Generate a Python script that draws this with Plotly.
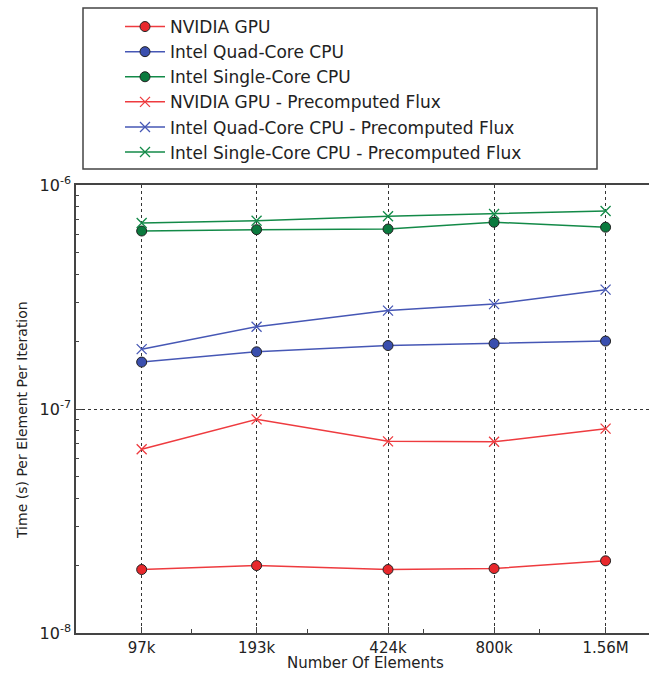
import plotly.graph_objects as go

elements = [97000, 193000, 424000, 800000, 1560000]
x_labels = ["97k", "193k", "424k", "800k", "1.56M"]

gpu = [1.92e-8, 2.00e-8, 1.92e-8, 1.94e-8, 2.10e-8]
quad = [1.62e-7, 1.80e-7, 1.92e-7, 1.96e-7, 2.01e-7]
single = [6.23e-7, 6.32e-7, 6.36e-7, 6.82e-7, 6.48e-7]
gpu_pf = [6.61e-8, 8.99e-8, 7.17e-8, 7.14e-8, 8.17e-8]
quad_pf = [1.85e-7, 2.33e-7, 2.75e-7, 2.94e-7, 3.41e-7]
single_pf = [6.77e-7, 6.93e-7, 7.25e-7, 7.42e-7, 7.66e-7]

names = ["NVIDIA GPU", "Intel Quad-Core CPU", "Intel Single-Core CPU",
         "NVIDIA GPU - Precomputed Flux", "Intel Quad-Core CPU - Precomputed Flux",
         "Intel Single-Core CPU - Precomputed Flux"]

RED, BLUE, GREEN = "#e8282c", "#3a4fae", "#0b7a3e"
RED_L, BLUE_L, GREEN_L = "#ee3b3f", "#4657b5", "#138a48"

W, H = 649, 674
L, R, T, B = 76, 0, 185, 41

fig = go.Figure()
series = [(gpu, RED, RED_L, "circle"), (quad, BLUE, BLUE_L, "circle"),
          (single, GREEN, GREEN_L, "circle"), (gpu_pf, RED, RED_L, "x-thin"),
          (quad_pf, BLUE, BLUE_L, "x-thin"), (single_pf, GREEN, GREEN_L, "x-thin")]
for name, (vals, mc, lc, sym) in zip(names, series):
    if sym == "circle":
        marker = dict(symbol="circle", size=10, color=mc, line=dict(color="#222222", width=1))
    else:
        marker = dict(symbol="x-thin", size=10, color=lc, line=dict(color=lc, width=1.3))
    fig.add_trace(go.Scatter(x=elements, y=vals, name=name, mode="lines+markers",
                             line=dict(color=lc, width=1.5), marker=marker))

y_minor = [m * 10.0 ** e for e in (-8, -7) for m in range(2, 10)]
x_minor = [131072, 262144, 524288, 1048576]

pw = W - L - R
ph = H - T - B
def px_x(p):
    return (p - L) / pw
def px_y(p):
    return (H - B - p) / ph

# legend frame drawn as a rectangle in paper coords
fig.add_shape(type="rect", xref="paper", yref="paper",
              x0=px_x(83), x1=px_x(597), y0=px_y(169), y1=px_y(8),
              line=dict(color="#444444", width=1.5), fillcolor="white", layer="above")

fig.add_annotation(text="Number Of Elements", xref="paper", yref="paper",
                   x=px_x(365), y=px_y(663), showarrow=False,
                   xanchor="center", yanchor="middle",
                   font=dict(size=15, family="DejaVu Sans", color="#222222"))
fig.add_annotation(text="Time (s) Per Element Per Iteration", xref="paper", yref="paper",
                   x=px_x(22), y=px_y(420), showarrow=False, textangle=-90,
                   xanchor="center", yanchor="middle",
                   font=dict(size=14, family="DejaVu Sans", color="#222222"))

fig.update_layout(
    width=W, height=H,
    margin=dict(l=L, r=R, t=T, b=B, autoexpand=False),
    paper_bgcolor="white", plot_bgcolor="white",
    font=dict(family="DejaVu Sans", color="#222222", size=15),
    showlegend=True,
    legend=dict(xref="container", yref="container", x=120 / W, y=1 - 9 / H,
                xanchor="left", yanchor="top", bgcolor="rgba(0,0,0,0)",
                borderwidth=0,
                font=dict(family="DejaVu Sans", size=17, color="#222222"),
                itemwidth=40),
    xaxis=dict(type="log", range=[4.816, 6.306], tickmode="array",
               tickvals=elements, ticktext=x_labels, ticks="inside", ticklen=6,
               tickcolor="#444444", showline=True, linecolor="#444444", linewidth=1.5,
               mirror=True, showgrid=True, gridcolor="#333333", griddash="dot", gridwidth=1,
               zeroline=False, tickangle=0,
               minor=dict(tickmode="array", tickvals=x_minor, ticks="inside", ticklen=4,
                          tickcolor="#444444", showgrid=False),
               tickfont=dict(size=15)),
    yaxis=dict(type="log", range=[-8, -6], tickmode="array",
               tickvals=[1e-8, 1e-7, 1e-6],
               ticktext=["10<sup>-8</sup>", "10<sup>-7</sup>", "10<sup>-6</sup>"],
               ticks="inside", ticklen=6, tickcolor="#444444",
               showline=True, linecolor="#444444", linewidth=1.5, mirror=True,
               showgrid=True, gridcolor="#333333", griddash="dot", gridwidth=1,
               zeroline=False,
               minor=dict(tickmode="array", tickvals=y_minor, ticks="inside", ticklen=3,
                          tickcolor="#444444", showgrid=False),
               tickfont=dict(size=16)),
)

fig.write_html("out.html", config={"displayModeBar": False},
               post_script="document.body.style.margin='0';")
